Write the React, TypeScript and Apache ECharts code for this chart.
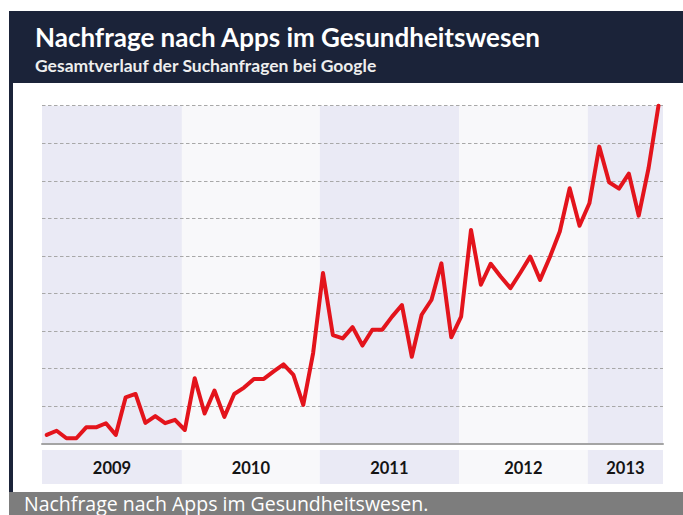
import React, { useEffect, useRef } from "react";
import * as echarts from "echarts";

// Search interest values (index units)
const values: number[] = [
  0.23, 0.34, 0.14, 0.14, 0.43, 0.43, 0.54, 0.23, 1.23, 1.32,
  0.55, 0.73, 0.54, 0.63, 0.36, 1.74, 0.8, 1.41, 0.71, 1.32,
  1.49, 1.72, 1.72, 1.92, 2.11, 1.83, 1.03, 2.41, 4.54, 2.89,
  2.8, 3.1, 2.61, 3.03, 3.03, 3.38, 3.69, 2.31, 3.43, 3.83,
  4.8, 2.83, 3.38, 5.69, 4.23, 4.79, 4.45, 4.14, 4.55, 4.98,
  4.36, 4.97, 5.65, 6.8, 5.8, 6.4, 7.91, 6.96, 6.79, 7.19,
  6.07, 7.34, 9.0,
];

// Year bands, in the same index units as the data points
const years: string[] = ["2009", "2010", "2011", "2012", "2013"];
const yearStarts: number[] = [-0.48, 13.7, 27.67, 41.78, 54.84];
const yearEnds: number[] = [13.7, 27.67, 41.78, 54.84, 62.46];

const X_MIN = -0.48;
const X_MAX = 62.46;
const Y_MAX = 9;

const BAND_COLORS = ["#eaeaf5", "#f8f8fa"];
const NAVY = "#1b2339";

export default function App() {
  const ref = useRef<HTMLDivElement>(null);

  useEffect(() => {
    if (!ref.current) return;
    const chart = echarts.init(ref.current, undefined, { renderer: "svg" });

    const bandData = years.map((y, i) => [yearStarts[i], yearEnds[i], i]);

    const option: any = {
      animation: false,
      backgroundColor: "#ffffff",
      graphic: [
        { type: "rect", left: 9, top: 11, shape: { width: 674, height: 72 }, style: { fill: NAVY }, z: 10 },
        { type: "rect", left: 9, top: 83, shape: { width: 4, height: 409 }, style: { fill: NAVY }, z: 10 },
        { type: "rect", left: 9, top: 492, shape: { width: 674, height: 23 }, style: { fill: "#7d7d7d" }, z: 10 },
        {
          type: "text", x: 35, y: 36.5, z: 11,
          style: {
            text: "Nachfrage nach Apps im Gesundheitswesen",
            fill: "#ffffff", font: "bold 26px Lato", verticalAlign: "middle", align: "left",
          },
        },
        {
          type: "text", x: 35, y: 65, z: 11,
          style: {
            text: "Gesamtverlauf der Suchanfragen bei Google",
            fill: "#eeeeee", font: "bold 17.5px Lato", verticalAlign: "middle", align: "left",
          },
        },
        {
          type: "text", x: 24, y: 503, z: 11,
          style: {
            text: "Nachfrage nach Apps im Gesundheitswesen.",
            fill: "#ffffff", font: "19.5px 'Open Sans'", verticalAlign: "middle", align: "left",
          },
        },
      ],
      grid: [
        { left: 42, right: 20, top: 105.7, bottom: 71.5 },
        { left: 42, right: 20, top: 450, height: 34 },
      ],
      xAxis: [
        {
          type: "value", gridIndex: 0, min: X_MIN, max: X_MAX, z: 1,
          axisLine: { show: true, lineStyle: { color: "#a4a4a4", width: 2 } },
          axisTick: { show: false }, axisLabel: { show: false }, splitLine: { show: false },
        },
        { type: "value", gridIndex: 1, min: X_MIN, max: X_MAX, show: false },
      ],
      yAxis: [
        {
          type: "value", gridIndex: 0, min: 0, max: Y_MAX, interval: 1, z: 1,
          axisLine: { show: false }, axisTick: { show: false }, axisLabel: { show: false },
          splitLine: { show: true, lineStyle: { color: "#a8a8a8", width: 1, type: [3.5, 2.5] } },
        },
        { type: "value", gridIndex: 1, min: 0, max: 1, show: false },
      ],
      series: [
        {
          type: "custom", xAxisIndex: 0, yAxisIndex: 0, z: 0, silent: true,
          data: bandData,
          renderItem: (params: any, api: any) => {
            const p0 = api.coord([api.value(0), Y_MAX]);
            const p1 = api.coord([api.value(1), 0]);
            return {
              type: "rect",
              shape: { x: p0[0], y: p0[1], width: p1[0] - p0[0], height: p1[1] - p0[1] },
              style: { fill: BAND_COLORS[api.value(2) % 2] },
            };
          },
        },
        {
          type: "custom", xAxisIndex: 1, yAxisIndex: 1, z: 0, silent: true,
          data: bandData,
          renderItem: (params: any, api: any) => {
            const p0 = api.coord([api.value(0), 1]);
            const p1 = api.coord([api.value(1), 0]);
            return {
              type: "group",
              children: [
                {
                  type: "rect",
                  shape: { x: p0[0], y: p0[1], width: p1[0] - p0[0], height: p1[1] - p0[1] },
                  style: { fill: BAND_COLORS[api.value(2) % 2] },
                },
                {
                  type: "text",
                  style: {
                    text: years[params.dataIndex],
                    x: (p0[0] + p1[0]) / 2, y: (p0[1] + p1[1]) / 2 + 1,
                    align: "center", verticalAlign: "middle",
                    fill: "#141414", font: "bold 16.5px Lato",
                  },
                },
              ],
            };
          },
        },
        {
          type: "line", xAxisIndex: 0, yAxisIndex: 0, z: 3,
          data: values.map((v, i) => [i, v]),
          showSymbol: false, symbol: "none", clip: false,
          lineStyle: { color: "#e3141c", width: 4, join: "round", cap: "round" },
        },
      ],
    };

    chart.setOption(option);
    return () => chart.dispose();
  }, []);

  return (
    <div
      ref={ref}
      style={{ position: "fixed", left: 0, top: 0, width: 683, height: 515 }}
    />
  );
}
